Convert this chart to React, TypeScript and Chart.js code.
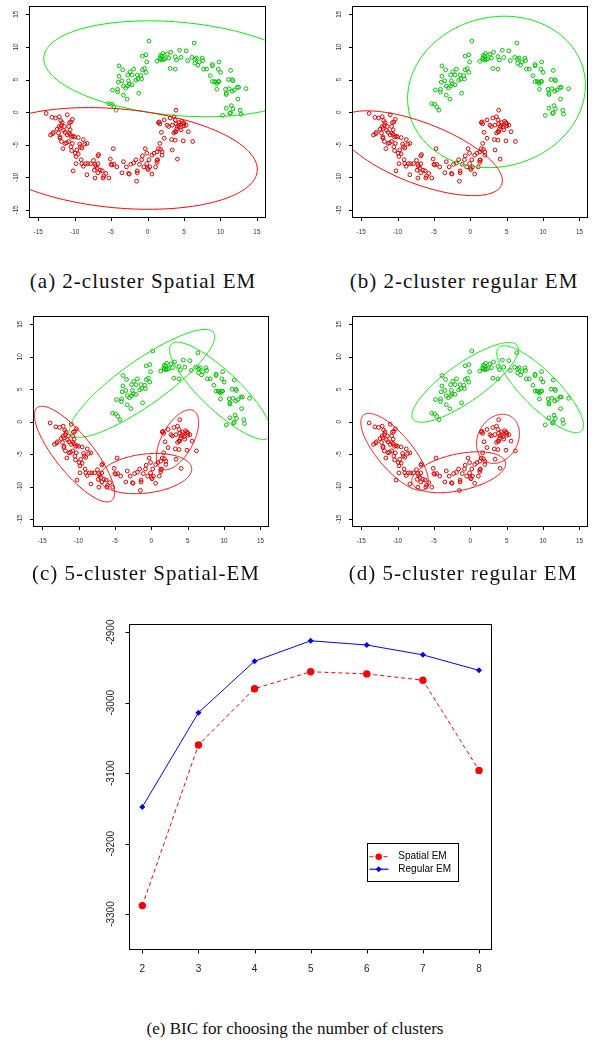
import React, { useEffect, useRef } from "react";
import { Chart, registerables } from "chart.js";
Chart.register(...registerables);

// ---------- data ----------
const scatterTicks = [-15, -10, -5, 0, 5, 10, 15];

const greenPoints: number[][] = [
  [0.2, 10.9], [6.4, 10.6], [4.4, 9.5], [5.3, 9.4], [3.2, 9.2], [2.1, 9.0], [1.8, 8.7], [1.7, 8.3],
  [1.3, 7.8], [1.8, 8.1], [2.0, 8.0], [2.2, 8.1], [2.4, 8.2], [2.9, 8.3], [3.8, 8.5], [4.6, 8.4],
  [5.5, 7.9], [6.1, 8.4], [6.5, 8.1], [6.7, 8.3], [7.5, 8.3], [7.6, 7.9], [7.1, 7.7], [6.5, 7.5],
  [2.7, 8.9], [-0.2, 8.8], [-0.7, 8.6], [-0.1, 7.7], [-0.4, 6.7], [-0.2, 6.1], [-0.7, 6.5], [-0.9, 5.6],
  [-0.8, 5.1], [-1.3, 5.1], [-1.4, 5.7], [-1.6, 4.9], [-1.9, 6.6], [-2.1, 5.7], [-2.4, 6.2], [-2.1, 4.2],
  [-2.6, 4.8], [-2.5, 4.3], [-2.7, 4.0], [-3.0, 3.7], [-3.3, 4.0], [-3.5, 4.8], [-4.0, 4.6], [-4.1, 3.5],
  [-4.8, 3.4], [-4.1, 3.1], [-3.3, 2.6], [-2.8, 2.0], [-1.2, 2.9], [-3.9, 7.1], [-3.4, 6.5], [-2.7, 5.7],
  [-3.9, 5.5], [3.1, 6.7], [3.8, 6.6], [6.9, 7.2], [7.7, 6.6], [8.1, 6.6], [8.6, 5.6], [8.9, 7.3],
  [8.9, 7.1], [9.8, 7.7], [9.7, 6.6], [10.0, 6.1], [8.9, 4.7], [9.2, 4.7], [9.4, 4.6], [9.7, 4.7],
  [9.5, 4.4], [10.7, 3.5], [10.8, 2.9], [10.8, 2.7], [11.4, 6.4], [11.1, 5.0], [11.2, 3.6], [11.7, 4.8],
  [11.6, 3.2], [12.3, 3.8], [12.5, 3.8], [12.4, 2.0], [13.5, 3.6], [11.5, 1.0], [11.7, 0.5], [12.7, 0.3],
  [12.8, -0.3], [11.3, -0.2], [10.3, -0.5], [10.8, 0.6], [-4.9, 1.2], [-5.3, 1.3], [-4.3, 0.3], [-4.6, 0.8],
  [11.9, 3.4], [9.8, 4.7], [4.0, 8.0], [11.6, 5.0], [2.0, 8.6], [9.5, 3.5], [11.4, -0.1],
];

const redPoints: number[][] = [
  [-13.9, -0.2], [-12.1, -0.7], [-12.6, -0.9], [-13.1, -0.8], [-11.7, -1.6], [-11.9, -1.3], [-11.8, -2.0],
  [-12.1, -2.2], [-12.0, -2.5], [-12.4, -2.6], [-12.9, -3.1], [-13.3, -3.5], [-13.0, -3.3], [-12.2, -3.2],
  [-11.5, -2.8], [-11.3, -3.1], [-11.0, -3.5], [-10.8, -3.2], [-10.6, -3.4], [-10.4, -3.8], [-10.3, -1.1],
  [-10.5, -1.5], [-11.0, -0.4], [-10.7, -1.6], [-11.4, -2.2], [-10.8, -2.2], [-10.6, -2.7], [-12.0, -3.8],
  [-11.8, -4.5], [-11.6, -5.6], [-12.0, -4.0], [-11.3, -4.8], [-11.1, -4.7], [-10.8, -4.5], [-10.5, -5.3],
  [-10.4, -5.9], [-10.3, -4.8], [-10.2, -3.7], [-10.0, -3.8], [-9.5, -3.9], [-9.3, -4.9], [-9.2, -5.3],
  [-8.8, -4.2], [-8.6, -4.9], [-8.3, -4.8], [-9.0, -5.5], [-9.7, -5.8], [-9.9, -6.3], [-9.5, -6.4],
  [-9.8, -6.8], [-9.8, -7.9], [-10.2, -9.0], [-9.1, -7.3], [-9.0, -7.9], [-8.8, -8.3], [-8.5, -7.9],
  [-8.2, -7.9], [-8.3, -9.6], [-7.8, -7.9], [-7.4, -7.4], [-7.2, -8.0], [-7.1, -8.3], [-6.9, -8.6],
  [-7.3, -8.9], [-7.2, -10.1], [-6.8, -9.3], [-6.5, -8.9], [-6.2, -9.0], [-6.0, -9.8], [-6.8, -7.9],
  [-6.7, -6.5], [-6.8, -6.7], [-6.1, -10.1], [-5.7, -9.4], [-5.3, -10.1], [-5.1, -7.2], [-5.0, -8.0],
  [-4.9, -8.1], [-4.6, -8.0], [-4.2, -8.4], [-4.7, -5.6], [-3.5, -9.3], [-3.3, -7.6], [-2.9, -8.4],
  [-2.6, -9.4], [-2.5, -9.5], [-2.3, -8.0], [-1.9, -7.8], [-1.6, -7.3], [-1.4, -9.0], [-1.4, -9.3],
  [-1.5, -10.6], [-1.1, -8.0], [-0.8, -7.3], [-0.7, -6.7], [-0.5, -8.4], [-0.3, -5.6], [-0.1, -7.9],
  [0.0, -8.6], [0.1, -8.8], [0.2, -7.3], [0.3, -8.4], [0.6, -9.5], [0.6, -6.6], [0.9, -6.3], [1.3, -7.4],
  [1.4, -7.3], [1.3, -7.7], [1.1, -8.4], [1.3, -6.1], [1.5, -5.6], [1.8, -5.7], [2.0, -6.6], [2.0, -6.1],
  [2.3, -4.0], [1.7, -4.8], [1.9, -3.1], [1.7, -1.8], [1.6, -1.5], [1.5, -1.6], [2.3, -1.2], [2.7, -2.0],
  [2.9, -2.2], [3.1, -0.9], [3.4, -5.8], [3.4, -2.0], [3.6, -0.7], [3.9, 0.3], [3.8, -1.2], [3.9, -1.8],
  [4.1, -2.2], [3.9, -3.0], [3.6, -3.2], [3.8, -3.0], [4.0, -2.6], [4.3, -1.6], [4.3, -2.0], [4.5, -2.3],
  [4.6, -2.7], [4.9, -1.6], [4.7, -1.4], [5.0, -1.8], [5.0, -2.1], [5.3, -2.0], [5.6, -3.0], [4.9, -4.4],
  [4.1, -7.2], [3.3, -4.2], [3.8, -4.3], [6.2, -4.5], [-0.1, -6.3],
];

// ellipses: [centerX, centerY, semiMajor, semiMinor, angleDeg]
const greenEllipsesA = [[4.1, 6.65, 18.4, 7.15, -5.8]];
const redEllipsesA = [[-3.95, -7.1, 19.1, 7.58, -6]];
const greenEllipsesB = [[3.6, 3.1, 12.5, 11.3, 30]];
const redEllipsesB = [[-6.9, -6.3, 12.2, 4.6, -24]];
const greenEllipsesC = [[-1.25, 5.9, 12.55, 3.3, 39], [9.5, 4.75, 9.87, 2.8, -47.3]];
const redEllipsesC = [[-10.55, -5.0, 8.8, 2.7, -55], [-0.8, -8.0, 6.4, 3.0, 8], [3.6, -2.8, 5.0, 2.2, 65]];
const greenEllipsesD = [[-0.7, 6.05, 9.14, 2.8, 39], [9.6, 5.0, 8.58, 2.6, -49]];
const redEllipsesD = [[-10.4, -4.65, 7.1, 2.5, -54], [-1.6, -7.8, 6.6, 2.8, 14], [3.8, -2.65, 3.9, 2.8, 70]];

const kValues = [2, 3, 4, 5, 6, 7, 8];
const spatialBIC = [-3288, -3060, -2980, -2956, -2959, -2968, -3096];
const regularBIC = [-3148, -3014, -2941, -2912, -2918, -2932, -2954];
const bicTicks = [-3300, -3200, -3100, -3000, -2900];
const seriesNames = ["Spatial EM", "Regular EM"];

const captions = [
  "(a) 2-cluster Spatial EM",
  "(b) 2-cluster regular EM",
  "(c) 5-cluster Spatial-EM",
  "(d) 5-cluster regular EM",
  "(e) BIC for choosing the number of clusters",
];

// ---------- plugins ----------
function axesPlugin(cfg: any) {
  return {
    id: "rAxes",
    afterDraw(chart: any) {
      const { ctx, chartArea } = chart;
      const { left, top, right, bottom } = chartArea;
      const xs = chart.scales.x;
      const ys = chart.scales.y;
      ctx.save();
      ctx.strokeStyle = "#000";
      ctx.lineWidth = 1;
      const L = Math.round(left) + 0.5, R = Math.round(right) - 0.5;
      const T = Math.round(top) + 0.5, B = Math.round(bottom) - 0.5;
      ctx.strokeRect(L, T, R - L, B - T);
      ctx.beginPath();
      const x0 = xs.getPixelForValue(cfg.xTicks[0]);
      const x1 = xs.getPixelForValue(cfg.xTicks[cfg.xTicks.length - 1]);
      ctx.moveTo(x0, B); ctx.lineTo(x1, B);
      for (const v of cfg.xTicks) {
        const px = Math.round(xs.getPixelForValue(v)) + 0.5;
        ctx.moveTo(px, B); ctx.lineTo(px, B + cfg.tickLen);
      }
      const y0 = ys.getPixelForValue(cfg.yTicks[0]);
      const y1 = ys.getPixelForValue(cfg.yTicks[cfg.yTicks.length - 1]);
      ctx.moveTo(L, y0); ctx.lineTo(L, y1);
      for (const v of cfg.yTicks) {
        const py = Math.round(ys.getPixelForValue(v)) + 0.5;
        ctx.moveTo(L, py); ctx.lineTo(L - cfg.tickLen, py);
      }
      ctx.stroke();
      ctx.fillStyle = cfg.labelColor;
      ctx.font = cfg.font;
      ctx.textAlign = "center";
      ctx.textBaseline = "middle";
      for (const v of cfg.xTicks) {
        ctx.fillText(String(v), xs.getPixelForValue(v), bottom + cfg.xLabelOffset);
      }
      for (const v of cfg.yTicks) {
        ctx.save();
        ctx.translate(left - cfg.yLabelOffset, ys.getPixelForValue(v));
        ctx.rotate(-Math.PI / 2);
        ctx.fillText(String(v), 0, 0);
        ctx.restore();
      }
      ctx.restore();
    },
  };
}

function ellipsePlugin(sets: { color: string; ellipses: number[][] }[]) {
  return {
    id: "ellipses",
    afterDatasetsDraw(chart: any) {
      const { ctx, chartArea } = chart;
      const xs = chart.scales.x;
      const ys = chart.scales.y;
      ctx.save();
      ctx.beginPath();
      ctx.rect(chartArea.left, chartArea.top, chartArea.right - chartArea.left, chartArea.bottom - chartArea.top);
      ctx.clip();
      ctx.lineWidth = 1;
      for (const set of sets) {
        ctx.strokeStyle = set.color;
        for (const [cx, cy, a, b, deg] of set.ellipses) {
          const th = (deg * Math.PI) / 180;
          ctx.beginPath();
          const n = 240;
          for (let i = 0; i <= n; i++) {
            const t = (i / n) * Math.PI * 2;
            const ex = cx + a * Math.cos(t) * Math.cos(th) - b * Math.sin(t) * Math.sin(th);
            const ey = cy + a * Math.cos(t) * Math.sin(th) + b * Math.sin(t) * Math.cos(th);
            const px = xs.getPixelForValue(ex);
            const py = ys.getPixelForValue(ey);
            if (i === 0) ctx.moveTo(px, py); else ctx.lineTo(px, py);
          }
          ctx.closePath();
          ctx.stroke();
        }
      }
      ctx.restore();
    },
  };
}

function legendPlugin() {
  return {
    id: "rLegend",
    afterDraw(chart: any) {
      const { ctx } = chart;
      ctx.save();
      ctx.strokeStyle = "#000";
      ctx.lineWidth = 1;
      ctx.strokeRect(277.5, 243.5, 91, 38);
      const rows = [256.7, 269.3];
      ctx.strokeStyle = "#ff0000";
      ctx.setLineDash([4, 3]);
      ctx.beginPath(); ctx.moveTo(279.5, rows[0]); ctx.lineTo(298.5, rows[0]); ctx.stroke();
      ctx.setLineDash([]);
      ctx.fillStyle = "#ff0000";
      ctx.beginPath(); ctx.arc(288.7, rows[0], 3.3, 0, Math.PI * 2); ctx.fill();
      ctx.strokeStyle = "#3333ff";
      ctx.lineWidth = 1.5;
      ctx.beginPath(); ctx.moveTo(279.5, rows[1]); ctx.lineTo(298.5, rows[1]); ctx.stroke();
      ctx.fillStyle = "#0000ff";
      ctx.beginPath();
      ctx.moveTo(288.7, rows[1] - 3); ctx.lineTo(291.7, rows[1]); ctx.lineTo(288.7, rows[1] + 3); ctx.lineTo(285.7, rows[1]);
      ctx.closePath(); ctx.fill();
      ctx.fillStyle = "#000";
      ctx.font = '10px "Liberation Sans", Arial, sans-serif';
      ctx.textAlign = "left";
      ctx.textBaseline = "middle";
      ctx.fillText(seriesNames[0], 308.3, rows[0]);
      ctx.fillText(seriesNames[1], 308.3, rows[1]);
      ctx.restore();
    },
  };
}

// ---------- components ----------
type PanelProps = {
  left: number; top: number; width: number; height: number;
  pad: { left: number; top: number; right: number; bottom: number };
  greenEll: number[][]; redEll: number[][];
};

function ScatterPanel(p: PanelProps) {
  const ref = useRef<HTMLCanvasElement | null>(null);
  useEffect(() => {
    if (!ref.current) return;
    const chart = new Chart(ref.current, {
      type: "scatter",
      data: {
        datasets: [
          {
            data: redPoints.map(([x, y]) => ({ x, y })),
            pointStyle: "circle",
            pointRadius: 1.9,
            pointBorderWidth: 1,
            pointBorderColor: "#dd0000",
            pointBackgroundColor: "rgba(0,0,0,0)",
            pointHoverRadius: 1.9,
          },
          {
            data: greenPoints.map(([x, y]) => ({ x, y })),
            pointStyle: "circle",
            pointRadius: 1.9,
            pointBorderWidth: 1,
            pointBorderColor: "#00c400",
            pointBackgroundColor: "rgba(0,0,0,0)",
            pointHoverRadius: 1.9,
          },
        ],
      } as any,
      options: {
        responsive: false,
        animation: false,
        events: [],
        layout: { padding: p.pad },
        plugins: { legend: { display: false }, tooltip: { enabled: false } },
        scales: {
          x: { type: "linear", min: -16.21, max: 16.21, display: false },
          y: { type: "linear", min: -16.28, max: 16.28, display: false },
        },
      } as any,
      plugins: [
        ellipsePlugin([
          { color: "#00ee00", ellipses: p.greenEll },
          { color: "#ff0000", ellipses: p.redEll },
        ]),
        axesPlugin({
          xTicks: scatterTicks, yTicks: scatterTicks, tickLen: 3.5,
          xLabelOffset: 14, yLabelOffset: 12.6,
          font: '6.3px "Liberation Sans", Arial, sans-serif', labelColor: "#333",
        }),
      ] as any,
    });
    return () => chart.destroy();
  }, []);
  return (
    <canvas
      ref={ref}
      width={p.width}
      height={p.height}
      style={{ position: "absolute", left: p.left, top: p.top, width: p.width, height: p.height }}
    />
  );
}

function BicPanel() {
  const ref = useRef<HTMLCanvasElement | null>(null);
  useEffect(() => {
    if (!ref.current) return;
    const chart = new Chart(ref.current, {
      type: "line",
      data: {
        datasets: [
          {
            label: seriesNames[0],
            data: kValues.map((k, i) => ({ x: k, y: spatialBIC[i] })),
            borderColor: "#ff0000",
            borderWidth: 1,
            borderDash: [4, 3],
            pointStyle: "circle",
            pointRadius: 3.7,
            pointBorderWidth: 0,
            pointBackgroundColor: "#ff0000",
            tension: 0,
          },
          {
            label: seriesNames[1],
            data: kValues.map((k, i) => ({ x: k, y: regularBIC[i] })),
            borderColor: "#0000ff",
            borderWidth: 1,
            pointStyle: "rectRot",
            pointRadius: 3,
            pointBorderWidth: 0,
            pointBackgroundColor: "#0000ff",
            tension: 0,
          },
        ],
      } as any,
      options: {
        responsive: false,
        animation: false,
        events: [],
        layout: { padding: { left: 39.3, top: 24.3, right: 17.7, bottom: 50 } },
        plugins: { legend: { display: false }, tooltip: { enabled: false } },
        scales: {
          x: { type: "linear", min: 1.768, max: 8.237, display: false },
          y: { type: "linear", min: -3351, max: -2888.6, display: false },
        },
      } as any,
      plugins: [
        axesPlugin({
          xTicks: kValues, yTicks: bicTicks, tickLen: 4,
          xLabelOffset: 19.3, yLabelOffset: 17.6,
          font: '10px "Liberation Sans", Arial, sans-serif', labelColor: "#222",
        }),
        legendPlugin(),
      ] as any,
    });
    return () => chart.destroy();
  }, []);
  return (
    <canvas
      ref={ref}
      width={420}
      height={400}
      style={{ position: "absolute", left: 90, top: 600, width: 420, height: 400 }}
    />
  );
}

const capStyle = (cx: number, cy: number, size: number, spacing: number): React.CSSProperties => ({
  position: "absolute",
  left: cx - 250,
  top: cy - 14,
  width: 500,
  height: 28,
  lineHeight: "28px",
  textAlign: "center",
  fontFamily: '"Liberation Serif", "Times New Roman", serif',
  fontSize: size,
  letterSpacing: spacing + "px",
  color: "#111",
  whiteSpace: "nowrap",
});

export default function App() {
  return (
    <div style={{ position: "absolute", left: 0, top: 0, width: 592, height: 1050, background: "#fff", overflow: "hidden" }}>
      <ScatterPanel left={0} top={0} width={296} height={250}
        pad={{ left: 29.3, top: 6, right: 30.3, bottom: 31.7 }}
        greenEll={greenEllipsesA} redEll={redEllipsesA} />
      <ScatterPanel left={296} top={0} width={296} height={250}
        pad={{ left: 56.3, top: 6, right: 3.7, bottom: 31.7 }}
        greenEll={greenEllipsesB} redEll={redEllipsesB} />
      <ScatterPanel left={0} top={300} width={296} height={260}
        pad={{ left: 33.3, top: 16, right: 26.7, bottom: 32.7 }}
        greenEll={greenEllipsesC} redEll={redEllipsesC} />
      <ScatterPanel left={296} top={300} width={296} height={260}
        pad={{ left: 56.3, top: 16, right: 3.7, bottom: 32.7 }}
        greenEll={greenEllipsesD} redEll={redEllipsesD} />
      <BicPanel />
      <div style={capStyle(143, 281, 21, 1)}>{captions[0]}</div>
      <div style={capStyle(464, 281, 21, 1)}>{captions[1]}</div>
      <div style={capStyle(146, 573, 21, 1)}>{captions[2]}</div>
      <div style={capStyle(463, 573, 21, 1)}>{captions[3]}</div>
      <div style={capStyle(295, 1029, 17, 0)}>{captions[4]}</div>
    </div>
  );
}
